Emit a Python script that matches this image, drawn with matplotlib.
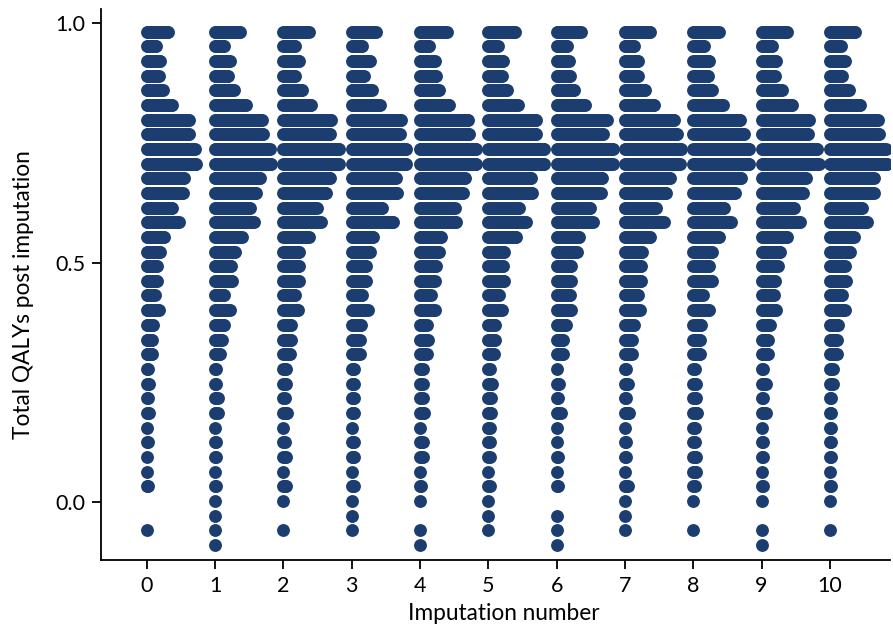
import matplotlib

# Non-interactive backend, we only save the picture.
matplotlib.use("Agg")
import matplotlib.pyplot as plt
import numpy as np

# QALY value of each row of dots, top row first
bin_centres = [
    0.983, 0.952, 0.922, 0.891, 0.860, 0.830, 0.799, 0.768, 0.738, 0.707,
    0.677, 0.646, 0.615, 0.585, 0.554, 0.523, 0.493, 0.462, 0.432, 0.401,
    0.370, 0.339, 0.309, 0.278, 0.247, 0.217, 0.186, 0.155, 0.125, 0.094,
    0.063, 0.033, 0.002, -0.029, -0.059, -0.090,
]

imputations = list(range(11))

# number of patients in each row (same order as bin_centres), per imputation
counts = [
    [17, 8, 11, 10, 13, 20, 33, 33, 37, 38, 29, 28, 20, 25, 14, 11, 9, 9, 7, 10, 6, 5, 5, 2, 3, 2, 3, 1, 2, 1, 1, 2, 0, 0, 1, 0],
    [20, 8, 12, 11, 15, 24, 36, 37, 42, 43, 35, 32, 27, 30, 21, 16, 13, 14, 8, 12, 8, 6, 5, 2, 2, 3, 3, 1, 2, 2, 1, 2, 1, 1, 1, 1],
    [20, 10, 13, 10, 15, 22, 37, 36, 43, 43, 36, 33, 26, 29, 20, 13, 13, 13, 10, 12, 7, 7, 6, 3, 3, 2, 4, 1, 2, 3, 1, 3, 1, 0, 1, 0],
    [19, 9, 15, 10, 16, 22, 38, 37, 42, 42, 34, 35, 24, 32, 17, 15, 12, 12, 9, 13, 8, 7, 7, 3, 3, 3, 3, 1, 3, 3, 1, 3, 1, 1, 1, 0],
    [21, 8, 12, 13, 15, 23, 37, 38, 43, 43, 35, 33, 27, 28, 17, 15, 13, 12, 9, 12, 6, 7, 6, 3, 3, 3, 4, 1, 3, 3, 1, 2, 1, 0, 1, 1],
    [21, 8, 12, 11, 15, 23, 37, 37, 43, 43, 33, 34, 24, 29, 22, 13, 12, 13, 9, 11, 6, 6, 5, 2, 4, 3, 3, 2, 2, 2, 1, 2, 1, 1, 1, 0],
    [19, 9, 10, 11, 14, 22, 39, 36, 43, 43, 35, 34, 26, 28, 18, 16, 12, 12, 11, 12, 8, 6, 6, 1, 3, 2, 4, 1, 1, 2, 1, 2, 0, 1, 1, 1],
    [20, 8, 11, 11, 16, 23, 38, 40, 43, 42, 35, 32, 24, 30, 20, 14, 13, 13, 11, 12, 8, 6, 6, 2, 3, 2, 4, 1, 2, 2, 1, 3, 1, 1, 1, 0],
    [20, 9, 13, 12, 15, 23, 36, 39, 43, 43, 37, 32, 24, 29, 20, 15, 13, 15, 8, 13, 7, 6, 6, 2, 3, 3, 4, 2, 2, 3, 3, 2, 1, 0, 1, 0],
    [20, 9, 12, 11, 16, 24, 37, 36, 43, 44, 34, 32, 25, 30, 20, 15, 13, 11, 10, 12, 7, 6, 6, 2, 4, 2, 4, 1, 2, 2, 1, 2, 1, 0, 1, 1],
    [20, 9, 12, 10, 15, 24, 37, 38, 43, 44, 34, 34, 25, 29, 19, 16, 12, 13, 10, 12, 7, 6, 6, 3, 3, 2, 2, 2, 2, 2, 1, 2, 1, 0, 1, 0],
]

DOT_COLOR = "#1b3d6f"
DOT_STEP = 0.0195  # horizontal gap between neighbouring dots, in x units

plt.rcParams["font.family"] = ["Lato", "DejaVu Sans"]

fig = plt.figure(figsize=(8.93, 6.35), dpi=100)
ax = fig.add_axes([0.1131, 0.1181, 0.8835, 0.8677])

# build the dot positions row by row, dots start at the imputation tick
xs, ys = [], []
for imp, imp_counts in zip(imputations, counts):
    for value, n in zip(bin_centres, imp_counts):
        xs.extend(imp + DOT_STEP * np.arange(n))
        ys.extend([value] * n)

ax.scatter(xs, ys, s=86, color=DOT_COLOR, linewidths=0, zorder=3)

ax.set_xlim(-0.67, 10.88)
ax.set_ylim(-0.121, 1.03)
ax.set_xticks(imputations)
ax.set_yticks([0.0, 0.5, 1.0])
ax.set_yticklabels(["0.0", "0.5", "1.0"])

ax.set_xlabel("Imputation number", fontsize=16.3)
ax.set_ylabel("Total QALYs post imputation", fontsize=16.3)
# the labels sit a little off-centre in the original
ax.xaxis.set_label_coords(0.51, -0.078)
ax.yaxis.set_label_coords(-0.085, 0.482)

for side in ("top", "right"):
    ax.spines[side].set_visible(False)
for side in ("left", "bottom"):
    ax.spines[side].set_linewidth(1.3)

ax.tick_params(axis="both", labelsize=15.5, length=6.5, width=1.3, pad=5)

fig.savefig("out.png", dpi=100)
